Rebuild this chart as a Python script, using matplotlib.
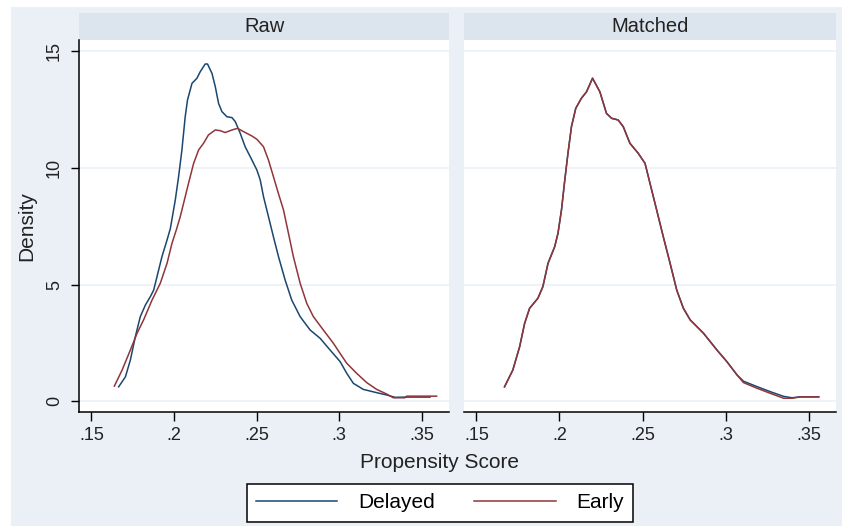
import matplotlib
matplotlib.use("Agg")
import matplotlib.pyplot as plt
from matplotlib.patches import Rectangle
from matplotlib.lines import Line2D

plt.rcParams['font.family'] = ['Liberation Sans', 'DejaVu Sans']

# ---------------- data ----------------
panel_titles = ["Raw", "Matched"]
series_names = ["Delayed", "Early"]

raw_delayed_x = [0.1665, 0.1706, 0.1736, 0.1766, 0.1796, 0.1827, 0.1857, 0.1877, 0.1897, 0.1927,
                 0.1958, 0.1978, 0.2008, 0.2028, 0.2048, 0.2068, 0.2082, 0.2109, 0.2139, 0.2159,
                 0.2189, 0.2203, 0.2230, 0.2250, 0.2270, 0.2290, 0.2320, 0.2351, 0.2371, 0.2401,
                 0.2431, 0.2472, 0.2502, 0.2522, 0.2542, 0.2572, 0.2602, 0.2633, 0.2673, 0.2713,
                 0.2764, 0.2824, 0.2885, 0.2945, 0.3006, 0.3046, 0.3086, 0.3146, 0.3227, 0.3288,
                 0.3338, 0.3409, 0.3550]
raw_delayed_y = [0.61, 1.04, 1.76, 2.76, 3.62, 4.12, 4.48, 4.76, 5.33, 6.19,
                 6.91, 7.40, 8.63, 9.63, 10.77, 12.20, 12.92, 13.63, 13.85, 14.13,
                 14.46, 14.46, 14.06, 13.49, 12.77, 12.42, 12.20, 12.16, 11.99, 11.49,
                 10.91, 10.34, 9.91, 9.49, 8.77, 7.91, 7.05, 6.19, 5.19, 4.33,
                 3.62, 3.05, 2.69, 2.19, 1.69, 1.19, 0.76, 0.50, 0.36, 0.26,
                 0.16, 0.17, 0.17]

raw_early_x = [0.1639, 0.1686, 0.1736, 0.1776, 0.1816, 0.1867, 0.1917, 0.1958, 0.1988, 0.2014,
               0.2038, 0.2088, 0.2119, 0.2149, 0.2179, 0.2209, 0.2250, 0.2280, 0.2310, 0.2351,
               0.2385, 0.2421, 0.2472, 0.2502, 0.2542, 0.2572, 0.2602, 0.2632, 0.2663, 0.2693,
               0.2723, 0.2764, 0.2804, 0.2844, 0.2904, 0.2965, 0.3005, 0.3046, 0.3106, 0.3167,
               0.3227, 0.3288, 0.3328, 0.3398, 0.3409, 0.3590]
raw_early_y = [0.64, 1.33, 2.19, 2.90, 3.48, 4.33, 5.05, 5.91, 6.77, 7.34,
               7.91, 9.34, 10.20, 10.77, 11.06, 11.42, 11.63, 11.60, 11.52, 11.63,
               11.70, 11.56, 11.37, 11.23, 10.91, 10.34, 9.63, 8.91, 8.20, 7.20,
               6.19, 5.05, 4.19, 3.62, 3.05, 2.48, 2.05, 1.62, 1.19, 0.79,
               0.50, 0.30, 0.14, 0.14, 0.21, 0.21]

matched_early_x = [0.1669, 0.1719, 0.1760, 0.1790, 0.1820, 0.1870, 0.1900, 0.1931, 0.1971, 0.1991,
                   0.2012, 0.2032, 0.2051, 0.2072, 0.2098, 0.2132, 0.2163, 0.2199, 0.2243, 0.2283,
                   0.2314, 0.2353, 0.2384, 0.2424, 0.2474, 0.2515, 0.2545, 0.2585, 0.2625, 0.2666,
                   0.2706, 0.2746, 0.2787, 0.2867, 0.2948, 0.3008, 0.3069, 0.3108, 0.3189, 0.3270,
                   0.3350, 0.3400, 0.3451, 0.3561]
matched_early_y = [0.61, 1.33, 2.33, 3.33, 3.98, 4.41, 4.91, 5.91, 6.62, 7.20,
                   8.20, 9.49, 10.63, 11.77, 12.56, 12.99, 13.27, 13.85, 13.27, 12.34,
                   12.13, 12.06, 11.77, 11.06, 10.63, 10.20, 9.34, 8.20, 7.05, 5.91,
                   4.76, 3.98, 3.48, 2.91, 2.19, 1.69, 1.12, 0.79, 0.55, 0.33,
                   0.12, 0.12, 0.18, 0.18]

matched_delayed_x = [0.1669, 0.1719, 0.1760, 0.1790, 0.1820, 0.1870, 0.1900, 0.1931, 0.1971, 0.1991,
                     0.2012, 0.2032, 0.2051, 0.2072, 0.2098, 0.2132, 0.2163, 0.2199, 0.2243, 0.2283,
                     0.2314, 0.2353, 0.2384, 0.2424, 0.2474, 0.2515, 0.2545, 0.2585, 0.2625, 0.2666,
                     0.2706, 0.2746, 0.2787, 0.2867, 0.2948, 0.3008, 0.3069, 0.3108, 0.3189, 0.3270,
                     0.3350, 0.3400, 0.3451, 0.3561]
matched_delayed_y = [0.61, 1.33, 2.33, 3.33, 3.98, 4.41, 4.91, 5.91, 6.62, 7.20,
                     8.20, 9.49, 10.63, 11.77, 12.56, 12.99, 13.27, 13.85, 13.27, 12.34,
                     12.13, 12.06, 11.77, 11.06, 10.63, 10.20, 9.34, 8.20, 7.05, 5.91,
                     4.76, 3.98, 3.48, 2.91, 2.19, 1.69, 1.12, 0.85, 0.62, 0.40,
                     0.20, 0.14, 0.18, 0.18]

x_ticks = [0.15, 0.20, 0.25, 0.30, 0.35]
x_tick_labels = [".15", ".2", ".25", ".3", ".35"]
y_ticks = [0, 5, 10, 15]
y_tick_labels = ["0", "5", "10", "15"]

# ---------------- style ----------------
W, H = 842, 526
BG = "#EAF0F6"
STRIP = "#DCE4EE"
GRID = "#EDF2F7"
C_DEL = "#1A476F"
C_EAR = "#90353B"

fig = plt.figure(figsize=(W / 100, H / 100), dpi=100, facecolor="white")

def fx(px):
    return px / W

def fy(py):
    return 1 - py / H

# grey graph region
fig.patches.append(Rectangle((fx(11), 0), 1 - fx(11), fy(7), transform=fig.transFigure,
                             facecolor=BG, edgecolor="none", zorder=-10))

panels = [(79, 449), (464, 836)]
top, bottom = 40, 412
data = [((raw_delayed_x, raw_delayed_y), (raw_early_x, raw_early_y)),
        ((matched_delayed_x, matched_delayed_y), (matched_early_x, matched_early_y))]

for i, ((l, r), title, (d, e)) in enumerate(zip(panels, panel_titles, data)):
    ax = fig.add_axes([fx(l), fy(bottom), fx(r - l), (bottom - top) / H])
    ax.set_facecolor("white")
    ax.plot(d[0], d[1], color=C_DEL, lw=1.1, zorder=3)
    ax.plot(e[0], e[1], color=C_EAR, lw=1.1, zorder=4)
    ax.set_xlim(0.1425, 0.3665)
    ax.set_ylim(-0.47, 15.49)
    for yv in y_ticks:
        ax.axhline(yv, color=GRID, lw=1.3, zorder=1)
    ax.set_xticks(x_ticks)
    ax.set_xticklabels(x_tick_labels, fontsize=13, color="#222222")
    ax.tick_params(axis="x", length=6.5, width=1.0, pad=4.5, direction="out")
    ax.spines["top"].set_visible(False)
    ax.spines["right"].set_visible(False)
    ax.spines["bottom"].set_linewidth(1.1)
    if i == 0:
        ax.set_yticks(y_ticks)
        ax.set_yticklabels(y_tick_labels, fontsize=13, rotation=90, va="center",
                           color="#222222")
        ax.tick_params(axis="y", length=6, width=1.0, pad=5.5, direction="out")
        ax.spines["left"].set_linewidth(1.1)
    else:
        ax.set_yticks([])
        ax.spines["left"].set_visible(False)
    # strip
    fig.patches.append(Rectangle((fx(l), fy(40)), fx(r - l), (40 - 13) / H,
                                 transform=fig.transFigure, facecolor=STRIP,
                                 edgecolor="none", zorder=-5))
    fig.text(fx((l + r) / 2), fy(26.5), title, ha="center", va="center",
             fontsize=14.5, color="#222222")

fig.text(fx(27), fy(226), "Density", rotation=90, ha="center", va="center",
         fontsize=15, color="#222222")
fig.text(fx(440), fy(462), "Propensity Score", ha="center", va="center",
         fontsize=15, color="#222222")

handles = [Line2D([], [], color=C_DEL, lw=1.1), Line2D([], [], color=C_EAR, lw=1.1)]
leg = fig.legend(handles, series_names, loc="center", bbox_to_anchor=(fx(440), fy(503)),
                 ncol=2, frameon=True, fancybox=False, fontsize=15,
                 handlelength=3.9, handletextpad=1.0, columnspacing=1.9,
                 borderpad=0.45, borderaxespad=0)
leg.get_frame().set_edgecolor("black")
leg.get_frame().set_linewidth(1.1)
leg.get_frame().set_facecolor("white")
leg.get_frame().set_alpha(1)

fig.savefig("out.png", dpi=100, facecolor="white")
